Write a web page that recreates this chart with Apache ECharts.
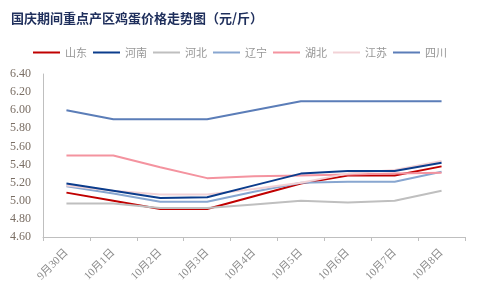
<!DOCTYPE html>
<html>
<head>
<meta charset="utf-8">
<script src="https://cdn.jsdelivr.net/npm/echarts@6/dist/echarts.min.js"></script>
<style>html,body{margin:0;padding:0;background:#fff;}#c{width:480px;height:295px;}</style>
</head>
<body>
<div id="c"></div>
<script>
const categories = ['9月30日','10月1日','10月2日','10月3日','10月4日','10月5日','10月6日','10月7日','10月8日'];
const seriesNames = ['山东','河南','河北','辽宁','湖北','江苏','四川'];
const shandong = [5.09, 5.00, 4.91, 4.91, 5.05, 5.19, 5.28, 5.28, 5.38];
const henan    = [5.19, 5.11, 5.03, 5.04, 5.17, 5.30, 5.33, 5.33, 5.42];
const hebei    = [4.97, 4.97, 4.92, 4.92, 4.96, 5.00, 4.98, 5.00, 5.11];
const liaoning = [5.16, 5.08, 4.99, 4.99, 5.10, 5.20, 5.21, 5.21, 5.32];
const hubei    = [5.50, 5.50, 5.37, 5.25, 5.27, 5.28, 5.29, 5.30, 5.31];
const jiangsu  = [5.17, 5.11, 5.07, 5.07, 5.13, 5.20, 5.30, 5.34, 5.44];
const sichuan  = [6.00, 5.90, 5.90, 5.90, 6.00, 6.10, 6.10, 6.10, 6.10];
const yMin = 4.6, yMax = 6.4, yStep = 0.2;

const dataList = [shandong, henan, hebei, liaoning, hubei, jiangsu, sichuan];
const colors = ['#c00000', '#0b3c8c', '#bfbfbf', '#88a6d0', '#f4939f', '#f2d2d6', '#5b7db8'];

const chart = echarts.init(document.getElementById('c'));
chart.setOption({
  animation: false,
  title: {
    text: '国庆期间重点产区鸡蛋价格走势图（元/斤）',
    left: 6, top: 7,
    textStyle: { fontFamily: 'Noto Sans CJK SC', fontWeight: 'bold', fontSize: 13, color: '#1f2f5c' }
  },
  legend: {
    data: seriesNames,
    left: 'center', top: 42,
    icon: 'rect', itemWidth: 27, itemHeight: 2, itemGap: 6,
    textStyle: { fontFamily: 'Noto Sans CJK SC', fontSize: 11, color: '#969696' }
  },
  grid: { left: 43, right: 15, top: 74, bottom: 58, containLabel: false },
  xAxis: {
    type: 'category',
    data: categories,
    boundaryGap: true,
    axisLine: { lineStyle: { color: '#bfbfbf', width: 1 } },
    axisTick: { show: true, alignWithLabel: false, length: 4, lineStyle: { color: '#bfbfbf' } },
    axisLabel: { rotate: 45, fontFamily: 'Liberation Serif, Noto Sans CJK SC', fontSize: 11, color: '#8c8c8c', margin: 14, interval: 0 }
  },
  yAxis: {
    type: 'value',
    min: yMin, max: yMax, interval: yStep,
    axisLine: { show: true, lineStyle: { color: '#bfbfbf' } },
    axisTick: { show: false },
    splitLine: { show: false },
    axisLabel: {
      fontFamily: 'Liberation Serif', fontSize: 12, color: '#7a6e64', margin: 12,
      formatter: v => v.toFixed(2)
    }
  },
  series: seriesNames.map((n, i) => ({
    name: n, type: 'line', data: dataList[i],
    showSymbol: false, symbol: 'none',
    lineStyle: { color: colors[i], width: 2 },
    itemStyle: { color: colors[i] },
    z: i === 1 ? 5 : 2
  }))
});
</script>
</body>
</html>
